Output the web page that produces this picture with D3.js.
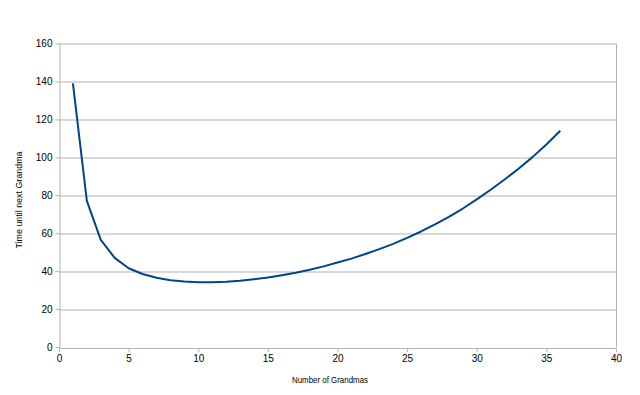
<!DOCTYPE html>
<html>
<head>
<meta charset="utf-8">
<script src="https://cdn.jsdelivr.net/npm/d3@7"></script>
<style>
  body { margin: 0; background: #fff; }
  svg text { font-family: "Liberation Sans", Arial, sans-serif; fill: #000; }
</style>
</head>
<body>
<svg id="chart" width="640" height="395"></svg>
<script>
// number of grandmas owned
const grandmas = d3.range(1, 37);
// time until next grandma
const timeUntilNext = [139, 77, 56.5, 47, 41.5, 38.5, 36.5, 35.2, 34.5, 34.1,
  34.2, 34.4, 34.9, 35.7, 36.6, 37.8, 39.1, 40.7, 42.5, 44.5,
  46.6, 49.0, 51.6, 54.4, 57.5, 60.9, 64.6, 68.6, 73.0, 77.8,
  82.9, 88.3, 94.0, 100.1, 106.8, 114.0];
const xTicks = [0, 5, 10, 15, 20, 25, 30, 35, 40];
const yTicks = [0, 20, 40, 60, 80, 100, 120, 140, 160];

const data = grandmas.map((n, i) => ({ n: n, t: timeUntilNext[i] }));

const svg = d3.select('#chart');
const margin = { left: 59, right: 24, top: 43.5, bottom: 48 };
const width = 640 - margin.left - margin.right;
const height = 395 - margin.top - margin.bottom;

const x = d3.scaleLinear().domain([0, 40]).range([0, width]);
const y = d3.scaleLinear().domain([0, 160]).range([height, 0]);

const g = svg.append('g').attr('transform', `translate(${margin.left},${margin.top})`);

// horizontal grid
g.append('g')
  .selectAll('line')
  .data(yTicks.slice(1))
  .enter()
  .append('line')
  .attr('x1', 0)
  .attr('x2', width)
  .attr('y1', d => Math.round(y(d)) + 0.5)
  .attr('y2', d => Math.round(y(d)) + 0.5)
  .attr('stroke', '#b3b3b3')
  .attr('stroke-width', 1);

// right border line
g.append('line')
  .attr('x1', width + 0.5).attr('x2', width + 0.5)
  .attr('y1', 0).attr('y2', height)
  .attr('stroke', '#b3b3b3');

const xAxis = g.append('g')
  .attr('transform', `translate(0,${Math.round(height) + 0.5})`)
  .call(d3.axisBottom(x).tickValues(xTicks).tickSize(4).tickSizeOuter(0).tickPadding(3));

const yAxis = g.append('g')
  .attr('transform', 'translate(0.5,0)')
  .call(d3.axisLeft(y).tickValues(yTicks).tickSize(4).tickSizeOuter(0).tickPadding(3));

[xAxis, yAxis].forEach(a => {
  a.select('.domain').attr('stroke', '#b3b3b3');
  a.selectAll('.tick line').attr('stroke', '#b3b3b3');
  a.selectAll('.tick text').attr('font-size', 10).style('fill', '#000');
});

const line = d3.line()
  .x(d => x(d.n))
  .y(d => y(d.t));

g.append('path')
  .datum(data)
  .attr('fill', 'none')
  .attr('stroke', '#004586')
  .attr('stroke-width', 2)
  .attr('stroke-linejoin', 'round')
  .attr('d', line);

// axis titles
svg.append('text')
  .attr('x', 330)
  .attr('y', 383)
  .attr('text-anchor', 'middle')
  .attr('font-size', 9)
  .attr('textLength', 76)
  .attr('lengthAdjust', 'spacingAndGlyphs')
  .text('Number of Grandmas');

svg.append('text')
  .attr('transform', 'translate(22,200) rotate(-90)')
  .attr('text-anchor', 'middle')
  .attr('font-size', 9.5)
  .attr('textLength', 97)
  .attr('lengthAdjust', 'spacingAndGlyphs')
  .text('Time until next Grandma');
</script>
</body>
</html>
